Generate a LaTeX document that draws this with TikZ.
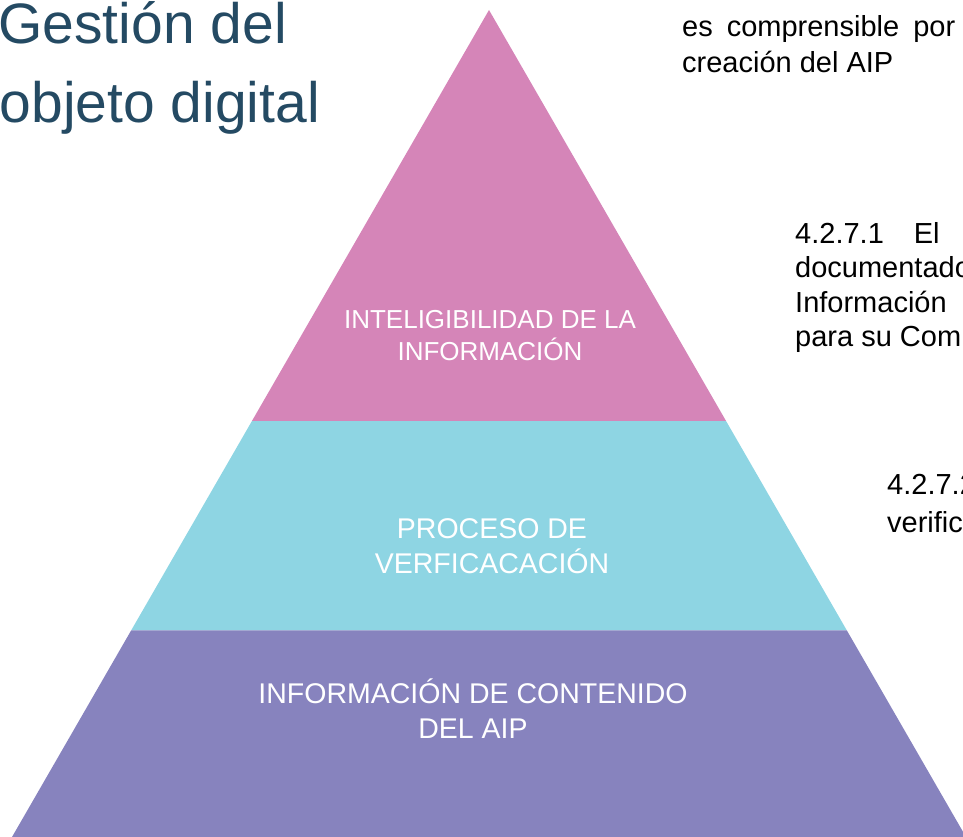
\documentclass[tikz,border=0pt]{standalone}
\usepackage{fontspec}
\setmainfont{Liberation Sans}
\usetikzlibrary{calc}
\definecolor{titlec}{HTML}{244A63}
\definecolor{tierpink}{HTML}{D585B8}
\definecolor{tiercyan}{HTML}{8ED5E3}
\definecolor{tierviolet}{HTML}{8783BE}
\tikzset{
  tierlbl/.style={text=white, inner sep=0pt, anchor=base},
  toplbl/.style={tierlbl, font=\fontsize{26}{32}\selectfont},
  midlbl/.style={tierlbl, font=\fontsize{28.5}{35}\selectfont},
  side/.style={font=\fontsize{29}{35}\selectfont, anchor=base west, inner sep=0pt},
  ttl/.style={text=titlec, font=\fontsize{57}{68}\selectfont, anchor=base east, inner sep=0pt},
}

\begin{document}
\begin{tikzpicture}[x=1pt, y=-1pt]
  \useasboundingbox (0,0) rectangle (963,837);
  % pyramid corners and tier edges
  \coordinate (apex) at (489,10);
  \coordinate (bl) at (12,837);
  \coordinate (br) at (966,837);
  \coordinate (t1l) at ($(apex)!0.497!(bl)$);
  \coordinate (t1r) at ($(apex)!0.497!(br)$);
  \coordinate (t2l) at ($(apex)!0.75!(bl)$);
  \coordinate (t2r) at ($(apex)!0.75!(br)$);
  \fill[tierpink] (apex) -- (t1l) -- (t1r) -- cycle;
  \fill[tiercyan] (t1l) -- (t2l) -- (t2r) -- (t1r) -- cycle;
  \fill[tierviolet] (t2l) -- (bl) -- (br) -- (t2r) -- cycle;
  % tier labels
  \node[toplbl] (intelA) at (490,328) {INTELIGIBILIDAD DE LA};
  \node[toplbl] (intelB) at (490,360) {INFORMACIÓN};
  \node[midlbl] (procA) at (492,538) {PROCESO DE};
  \node[midlbl] (procB) at (492,573) {VERFICACACIÓN};
  \node[midlbl] (contA) at (473,703) {INFORMACIÓN DE CONTENIDO};
  \node[midlbl] (contB) at (473,738) {DEL AIP};
  % title
  \node[ttl] (ttlA) at (287,44) {Gestión del};
  \node[ttl] (ttlB) at (320,123) {objeto digital};
  % side text
  \node[side] (txtA1) at (682,37) {\makebox[273pt][s]{es comprensible por}};
  \node[side] (txtA2) at (682,73) {creación del AIP};
  \node[side] (txtB1) at (795,243) {4.2.7.1\hspace{30pt}El};
  \node[side] (txtB2) at (795,277.5) {documentado};
  \node[side] (txtB3) at (795,312) {Información};
  \node[side] (txtB4) at (795,346.5) {para su Com};
  \node[side] (txtC1) at (887,494) {4.2.7.2};
  \node[side] (txtC2) at (887,532) {verific};
\end{tikzpicture}
\end{document}
